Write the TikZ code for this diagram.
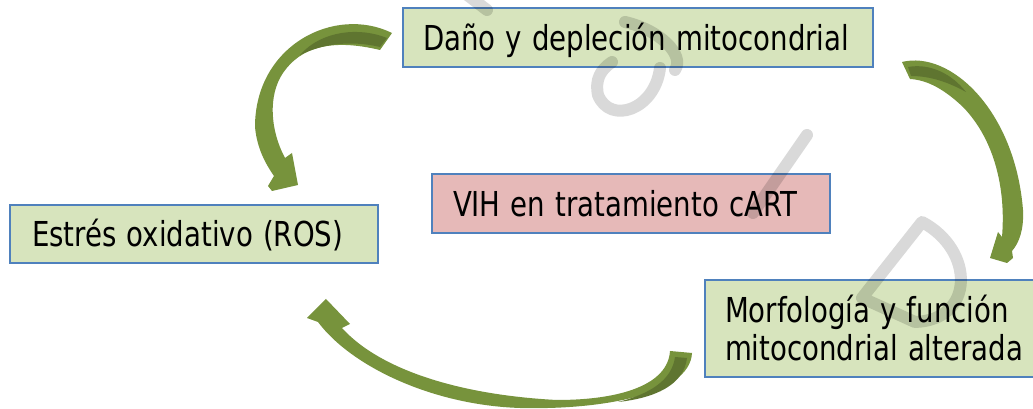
\documentclass[tikz,border=0pt]{standalone}
\usepackage{fontspec}
\usepackage{graphicx}
\setmainfont{DejaVu Sans Condensed}
\definecolor{boxblue}{HTML}{4F81BD}
\definecolor{boxgreen}{HTML}{D7E4BD}
\definecolor{boxpink}{HTML}{E6B9B8}
\definecolor{arrowgreen}{HTML}{77933C}
\definecolor{arrowdark}{HTML}{5F7530}
\newcommand{\tall}[1]{\scalebox{1}[1.12]{#1}}
\tikzset{
  box/.style={draw=boxblue, line width=1.5pt, rectangle, align=left, inner ysep=0pt,
    font=\fontsize{23}{28.5}\selectfont},
  oneline/.style={text height=18.8pt, text depth=0pt},
  wm/.style={draw=black, draw opacity=0.15, line width=9pt, line cap=round, line join=round},
  blockarrow/.style={fill=arrowgreen},
  blockdark/.style={fill=arrowdark}
}
\begin{document}
\begin{tikzpicture}[x=0.75pt, y=-0.75pt]
\clip (0,0) rectangle (1033,409);
\fill[white] (0,0) rectangle (1033,409);

% arrows
\fill[blockarrow] (392,33) .. controls (335,5) and (255,45) .. (255,127)
  .. controls (257,148) and (265,163) .. (274,176) -- (268,186) -- (272,191)
  -- (298,185) -- (292,153) -- (285,158)
  .. controls (270,130) and (268,95) .. (283,73)
  .. controls (300,48) and (330,38) .. (380,50) -- cycle;
\fill[blockdark] (387,38) .. controls (360,27) and (322,30) .. (300,55)
  .. controls (322,44) and (350,40) .. (380,47) -- cycle;

\fill[blockarrow] (902,62) .. controls (950,50) and (1015,110) .. (1023,210)
  .. controls (1024,230) and (1019,243) .. (1012,251) -- (1013,258) -- (1007,263)
  -- (990,258) -- (998,232) -- (1002,237)
  .. controls (1006,190) and (995,140) .. (963,107)
  .. controls (945,90) and (928,80) .. (910,79) -- cycle;
\fill[blockdark] (908,67) .. controls (930,63) and (952,74) .. (966,92)
  .. controls (948,82) and (930,76) .. (911,76) -- cycle;

\fill[blockarrow] (692,353) .. controls (690,395) and (600,410) .. (520,408)
  .. controls (430,405) and (350,365) .. (318,322) -- (307,318) -- (326,299)
  -- (350,324) -- (342,328)
  .. controls (380,370) and (460,395) .. (557,400)
  .. controls (620,400) and (668,385) .. (670,351) -- cycle;
\fill[blockdark] (675,357) -- (687,358) .. controls (684,385) and (655,398) .. (618,402)
  .. controls (650,394) and (672,380) .. (675,357) -- cycle;

% boxes
\node[box, oneline, fill=boxgreen, minimum width=352.5pt, minimum height=44.25pt,
  inner xsep=15pt, text width=322.5pt] (dano) at (638,37.5) {\tall{Daño y depleción mitocondrial}};
\node[box, oneline, fill=boxgreen, minimum width=276pt, minimum height=43.5pt,
  inner xsep=16.5pt, text width=243pt] (ros) at (194,234) {\tall{Estrés oxidativo (ROS)}};
\node[box, oneline, fill=boxpink, minimum width=298.5pt, minimum height=44.25pt,
  inner xsep=15.75pt, text width=267pt] (vih) at (631,203.5) {\tall{VIH en tratamiento cART}};
\node[box, fill=boxgreen, text height=18.8pt, text depth=28.5pt, minimum width=255pt, minimum height=72.75pt,
  inner xsep=15pt, text width=225pt] (morf) at (875,328.5) {\tall{Morfología y función}\\\tall{mitocondrial alterada}};

% watermark
\draw[wm] (466,-6) -- (487,10);
\draw[wm] (625,22) .. controls (660,30) and (685,55) .. (675,70);
\draw[wm] (660,68) .. controls (655,110) and (610,125) .. (598,95)
  .. controls (595,80) and (600,70) .. (612,62);
\draw[wm] (807,135) -- (753,213);
\draw[wm] (862,298) -- (922,222) .. controls (975,250) and (975,320) .. (915,322) -- cycle;
\end{tikzpicture}
\end{document}
